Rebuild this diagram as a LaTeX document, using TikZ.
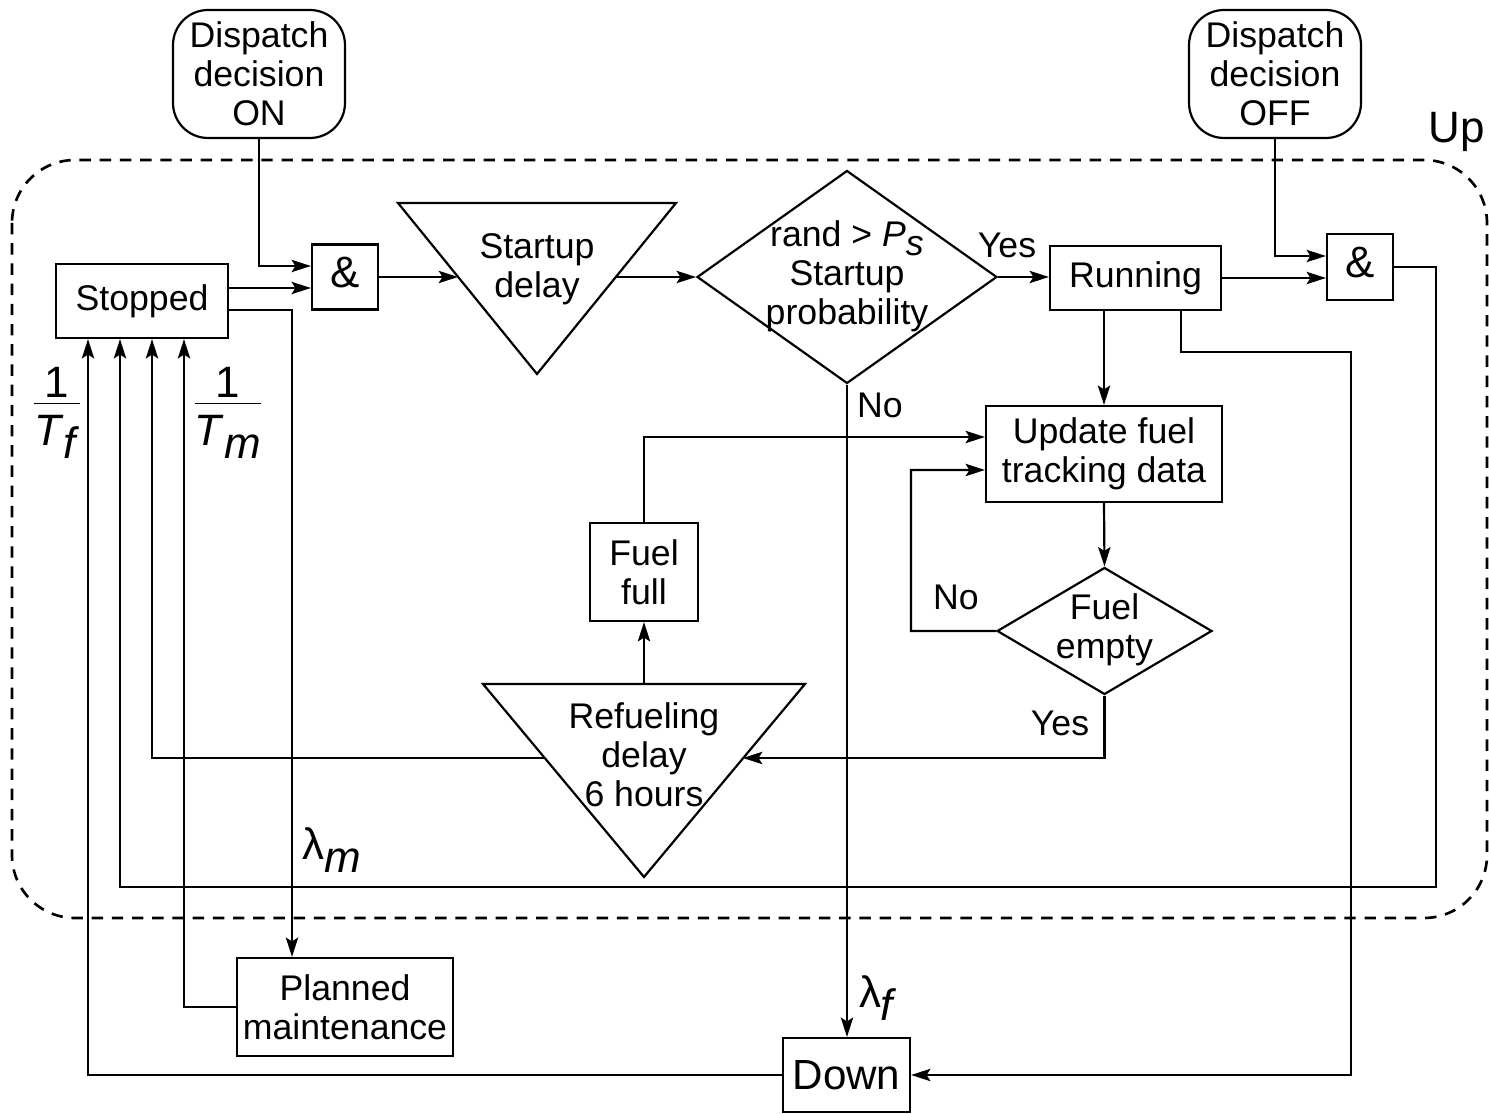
\documentclass[tikz,border=0pt]{standalone}
\usepackage{fontspec}
\setmainfont{Liberation Sans}
\usetikzlibrary{arrows.meta,shapes.geometric}
\newcommand\dfont{\fontsize{20.3}{22.2}\selectfont}
\newcommand\bigfont{\fontsize{25}{27}\selectfont}
\begin{document}
\begin{tikzpicture}[x=0.02cm,y=-0.02cm,
  every node/.style={font=\dfont},
  ln/.style={line width=1.25pt},
  arr/.style={ln,-{Stealth[length=11pt,width=7pt,inset=2.2pt]}},
  box/.style={draw,ln,inner sep=0pt,align=center},
  disp/.style={box,rounded corners=0.7cm,minimum width=3.44cm,minimum height=2.56cm},
  dmd/.style={draw,ln,diamond,inner sep=0pt},
  txt/.style={align=center,inner sep=0pt},
  lbl/.style={inner sep=0pt},
  mlbl/.style={inner sep=0pt,font=\bigfont}]
\useasboundingbox (0,0) rectangle (1489,1114);

% Up region
\draw[line width=1.5pt,dash pattern=on 6.5pt off 5pt,rounded corners=1.26cm] (12,160) rectangle (1487,918);
\node[mlbl] (up) at (1457,132) {Up};

% dispatch
\node[disp] (don) at (259,74) {Dispatch\\decision\\ON};
\node[disp] (doff) at (1275,74) {Dispatch\\decision\\OFF};

% boxes
\node[box,minimum width=3.44cm,minimum height=1.48cm] (stop) at (142,301) {Stopped};
\node[box,minimum width=1.32cm,minimum height=1.3cm] (and1) at (345,277) {\raisebox{0.2cm}{\bigfont\&}};
\node[box,minimum width=1.32cm,minimum height=1.32cm] (and2) at (1360,267) {\raisebox{0.2cm}{\bigfont\&}};
\node[box,minimum width=3.42cm,minimum height=1.28cm] (run) at (1135.5,278) {Running};
\node[box,minimum width=4.72cm,minimum height=1.92cm] (upd) at (1104,454) {Update fuel\\tracking data};
\node[box,minimum width=2.16cm,minimum height=1.96cm] (ff) at (644,572) {Fuel\\full};
\node[box,minimum width=4.32cm,minimum height=1.96cm] (pm) at (345,1007) {Planned\\maintenance};
\node[box,minimum width=2.54cm,minimum height=1.48cm,font=\fontsize{24}{26}\selectfont] (down) at (846.5,1075) {Down};

% diamonds
\node[dmd,minimum width=6cm,minimum height=4.26cm] (d1) at (847,277) {};
\node[txt] (d1t) at (847,276) {rand > \textit{P}\raisebox{-0.25em}{\textit{s}}\\Startup\\probability};
\node[dmd,minimum width=4.3cm,minimum height=2.54cm] (d2) at (1104.5,631) {};
\node[txt] (d2t) at (1104.5,630) {Fuel\\empty};

% triangles
\draw[ln] (398,203) -- (676,203) -- (537,374) -- cycle;
\node[txt] (sdt) at (537,269) {Startup\\delay};
\coordinate (sdL) at (458,277);
\coordinate (sdR) at (616,277);
\draw[ln] (483,684) -- (805,684) -- (644,877) -- cycle;
\node[txt] (rft) at (644,755) {Refueling\\delay\\6 hours};
\coordinate (rfT) at (644,684);
\coordinate (rfL) at (545,758);
\coordinate (rfR) at (743,758);

% connectors
\draw[arr] (don.south) |- ([yshift=0.22cm]and1.west);
\draw[arr] ([yshift=0.26cm]stop.east) -- ([yshift=0.26cm]stop.east -| and1.west);
\draw[arr] ([yshift=-0.18cm]stop.east) -| ([xshift=-1.06cm]pm.north);
\draw[arr] (and1.east) -- (sdL);
\draw[arr] (sdR) -- (d1.west);
\draw[arr] (d1.east) -- (d1.east -| run.west);
\draw[arr] (run.east) -- (run.east -| and2.west);
\draw[arr] (doff.south) |- ([yshift=0.22cm]and2.west);
\draw[arr] (and2.east) -| (1436,887) -| ([xshift=-0.44cm]stop.south);
\draw[arr] (upd.north |- run.south) -- (upd.north);
\draw[arr] ([xshift=0.91cm]run.south) |- (1351,352) |- (down.east);
\draw[arr] (d1.south) -- (d1.south |- down.north);
\draw[arr] (ff.north) |- ([yshift=0.34cm]upd.west);
\draw[arr] (upd.south) -- (d2.north);
\draw[arr] (d2.west) -| (911,470) -- ([yshift=-0.32cm]upd.west);
\draw[arr] (d2.south) |- (rfR);
\draw[arr] (rfT) -- (ff.south);
\draw[arr] (rfL) -| ([xshift=0.2cm]stop.south);
\draw[arr] (down.west) -| ([xshift=-1.08cm]stop.south);
\draw[arr] (pm.west) -| ([xshift=0.84cm]stop.south);

% labels
\node[lbl] (yes1) at (1007,245) {Yes};
\node[lbl] (no1) at (880,405) {No};
\node[lbl] (no2) at (956,597) {No};
\node[lbl] (yes2) at (1060,723) {Yes};
\node[mlbl] (lm) at (332,850) {λ\raisebox{-0.3em}{\textit{m}}};
\node[mlbl] (lf) at (878,998) {λ\raisebox{-0.3em}{\textit{f}}};
\node[mlbl] (tf) at (57,412) {\begin{tabular}{@{}c@{}}1\\[-5pt]\hline\rule{0pt}{24pt}\textit{T}\raisebox{-0.3em}{\textit{f}}\end{tabular}};
\node[mlbl] (tm) at (228,412) {\begin{tabular}{@{}c@{}}1\\[-5pt]\hline\rule{0pt}{24pt}\textit{T}\raisebox{-0.3em}{\textit{m}}\end{tabular}};
\end{tikzpicture}
\end{document}
